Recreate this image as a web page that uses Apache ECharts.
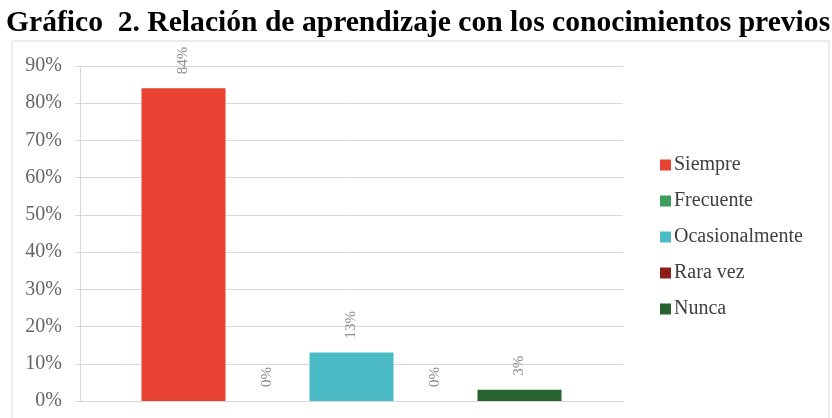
<!DOCTYPE html>
<html>
<head>
<meta charset="utf-8">
<script src="https://cdn.jsdelivr.net/npm/echarts@6/dist/echarts.min.js"></script>
<style>
  html, body { margin: 0; padding: 0; background: #fff; }
  #chart { width: 832px; height: 418px; }
</style>
</head>
<body>
<div id="chart"></div>
<script>
// Respuestas: relación del aprendizaje con los conocimientos previos
const titleText = 'Gráfico  2. Relación de aprendizaje con los conocimientos previos';
const categories = ['Siempre', 'Frecuente', 'Ocasionalmente', 'Rara vez', 'Nunca'];
const values = [84, 0, 13, 0, 3];
const colors = ['#e94132', '#3f9d5e', '#4bbcc6', '#8c1d18', '#26632f'];
const yTicks = [0, 10, 20, 30, 40, 50, 60, 70, 80, 90];

const chart = echarts.init(document.getElementById('chart'), null, { renderer: 'canvas' });

const series = categories.map((name, i) => ({
  name: name,
  type: 'bar',
  data: [values[i]],
  barWidth: 84,
  barGap: '0%',
  itemStyle: { color: colors[i] },
  label: {
    show: true,
    position: 'top',
    distance: 14,
    rotate: 90,
    align: 'left',
    verticalAlign: 'middle',
    formatter: p => p.value + '%',
    color: '#8f8f8f',
    fontFamily: 'Liberation Serif',
    fontSize: 15
  }
}));

chart.setOption({
  animation: false,
  backgroundColor: '#ffffff',
  color: colors,
  title: {
    text: titleText,
    left: 1,
    top: 3,
    textStyle: {
      fontFamily: 'Liberation Serif',
      fontWeight: 'bold',
      fontSize: 29.6,
      color: '#000000'
    }
  },
  graphic: [{
    type: 'rect',
    shape: { x: 12, y: 41, width: 817, height: 400 },
    style: { fill: 'none', stroke: '#d9d9d9', lineWidth: 1 },
    silent: true,
    z: -1
  }],
  legend: {
    orient: 'vertical',
    left: 655,
    top: 150,
    itemWidth: 11,
    itemHeight: 11,
    itemGap: 16,
    icon: 'rect',
    textStyle: {
      fontFamily: 'Liberation Serif',
      fontSize: 20,
      color: '#404040',
      padding: [0, 0, 0, -2]
    },
    data: categories
  },
  grid: { left: 80, right: 209, top: 66, bottom: 17, containLabel: false },
  xAxis: {
    type: 'category',
    data: [''],
    axisLine: { show: true, lineStyle: { color: '#d9d9d9' } },
    axisTick: { show: false },
    axisLabel: { show: false }
  },
  yAxis: {
    type: 'value',
    min: yTicks[0],
    max: yTicks[yTicks.length - 1],
    interval: 10,
    axisLine: { show: true, lineStyle: { color: '#d9d9d9' } },
    axisTick: { show: true, length: 5, lineStyle: { color: '#d9d9d9' } },
    axisLabel: {
      formatter: v => v + '%',
      margin: 18,
      fontFamily: 'Liberation Serif',
      fontSize: 20,
      color: '#666666'
    },
    splitLine: { show: true, lineStyle: { color: '#d9d9d9' } }
  },
  series: series
});
</script>
</body>
</html>
